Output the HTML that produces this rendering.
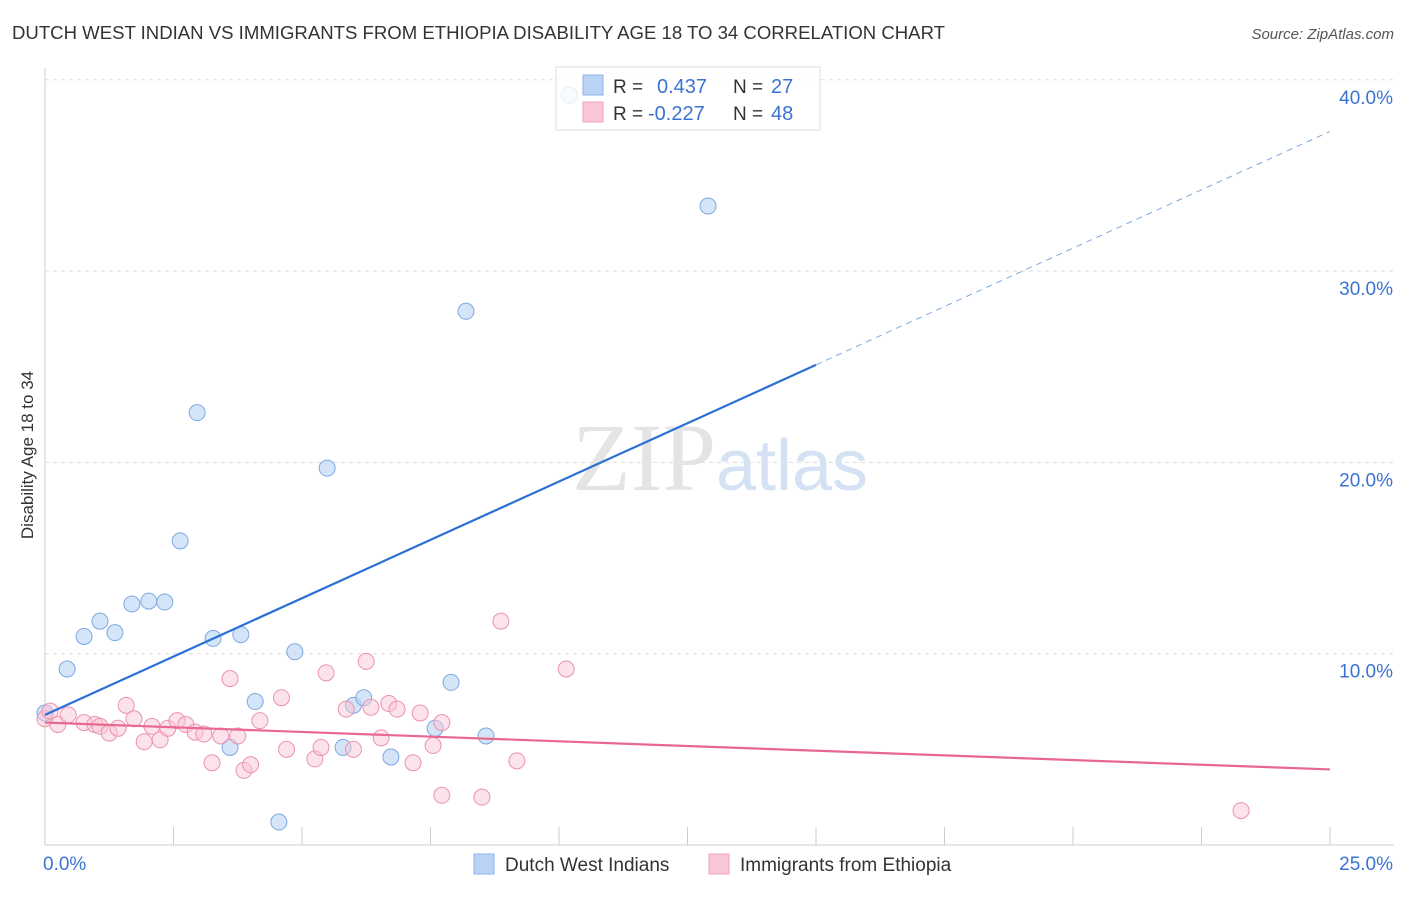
<!DOCTYPE html>
<html><head><meta charset="utf-8"><style>
body{margin:0;background:#fff;font-family:"Liberation Sans",sans-serif}
svg text{font-family:"Liberation Sans",sans-serif}
</style></head><body>
<svg id="c" width="1406" height="892" xmlns="http://www.w3.org/2000/svg">
<text x="12" y="39" font-size="18" fill="#333" textLength="933" lengthAdjust="spacingAndGlyphs">DUTCH WEST INDIAN VS IMMIGRANTS FROM ETHIOPIA DISABILITY AGE 18 TO 34 CORRELATION CHART</text>
<text x="1394" y="39" font-size="15" fill="#555" text-anchor="end" font-style="italic">Source: ZipAtlas.com</text>
<text x="33" y="455" font-size="17" fill="#333" text-anchor="middle" transform="rotate(-90 33 455)">Disability Age 18 to 34</text>
<g id="grid"></g>
<text x="720" y="490" font-size="96" fill="#e4e4e4" text-anchor="middle" font-family="Liberation Serif"><tspan font-family="Liberation Serif">ZIP</tspan><tspan fill="#d4e2f4" font-family="Liberation Sans" font-size="72">atlas</tspan></text>
<g id="marks"></g>
<g>
<rect x="556" y="67" width="264" height="63" fill="#fff" fill-opacity="0.8" stroke="#ddd"/>
<rect x="583" y="75" width="20" height="20" fill="#b9d3f5" stroke="#8fb3e6"/>
<rect x="583" y="102" width="20" height="20" fill="#f9c6d5" stroke="#eea3ba"/>
<text x="613" y="93" font-size="19" fill="#333">R = </text><text x="657" y="93" font-size="20" fill="#3b73d3">0.437</text>
<text x="733" y="93" font-size="19" fill="#333">N = </text><text x="771" y="93" font-size="20" fill="#3b73d3">27</text>
<text x="613" y="120" font-size="19" fill="#333">R = </text><text x="648" y="120" font-size="20" fill="#3b73d3">-0.227</text>
<text x="733" y="120" font-size="19" fill="#333">N = </text><text x="771" y="120" font-size="20" fill="#3b73d3">48</text>
</g>
<g>
<rect x="474" y="854" width="20" height="20" fill="#b9d3f5" stroke="#8fb3e6"/>
<text x="505" y="871" font-size="19" fill="#333">Dutch West Indians</text>
<rect x="709" y="854" width="20" height="20" fill="#f9c6d5" stroke="#eea3ba"/>
<text x="740" y="871" font-size="19" fill="#333">Immigrants from Ethiopia</text>
</g>
</svg>
<script>
const xTicks=[0,2.5,5,7.5,10,12.5,15,17.5,20,22.5,25];
const yTicks=[10,20,30,40];
const blueX=[0,0.43,0.76,1.07,1.36,1.69,2.02,2.33,2.63,2.96,3.27,3.6,3.81,4.09,4.55,4.86,5.49,5.8,6.0,6.2,6.73,7.59,7.9,8.19,8.58,10.2,12.9];
const blueY=[6.9,9.2,10.9,11.7,11.1,12.6,12.75,12.7,15.9,22.6,10.8,5.1,11.0,7.5,1.2,10.1,19.7,5.1,7.3,7.7,4.6,6.1,8.5,27.9,5.7,39.2,33.4];
const pinkX=[0,0.1,0.25,0.45,0.76,0.97,1.07,1.25,1.42,1.58,1.73,1.93,2.08,2.24,2.39,2.57,2.74,2.92,3.09,3.25,3.42,3.6,3.75,3.87,4.0,4.18,4.6,4.7,5.25,5.37,5.47,5.86,6.0,6.25,6.34,6.54,6.69,6.85,7.16,7.3,7.55,7.72,7.72,8.5,8.87,9.18,10.14,23.27];
const pinkY=[6.6,7.0,6.3,6.8,6.4,6.3,6.2,5.85,6.1,7.3,6.6,5.4,6.2,5.5,6.1,6.5,6.3,5.9,5.8,4.3,5.7,8.7,5.7,3.9,4.2,6.5,7.7,5.0,4.5,5.1,9.0,7.1,5.0,9.6,7.2,5.6,7.4,7.1,4.3,6.9,5.2,6.4,2.6,2.5,11.7,4.4,9.2,1.8];
const blueLine=[6.8,25.1]; const blueLineX=[0,15]; const blueDashEnd=[25,37.3];
const pinkLine=[6.4,3.95];
const X=v=>45+v*51.4, Y=v=>845-v*19.13;
const NS="http://www.w3.org/2000/svg";
const svg=document.getElementById('c'),grid=document.getElementById('grid'),marks=document.getElementById('marks');
function mk(tag,at,parent){const e=document.createElementNS(NS,tag);for(const k in at)e.setAttribute(k,at[k]);(parent||marks).appendChild(e);return e;}
let l=mk('line',{x1:45,y1:68,x2:45,y2:845,stroke:'#ccc'},grid);


l=mk('line',{x1:45,y1:845,x2:1394,y2:845,stroke:'#ccc'},grid);


yTicks.forEach(t=>{const g=mk('line',{x1:45,y1:Y(t),x2:1394,y2:Y(t),stroke:'#ddd','stroke-dasharray':'4,4'},grid);


const tx=mk('text',{x:1393,y:Y(t)+24,'font-size':19,fill:'#3b73d3','text-anchor':'end'},grid);tx.textContent=t.toFixed(1)+'%';

});
xTicks.forEach(t=>{const g=mk('line',{x1:X(t),y1:827,x2:X(t),y2:845,stroke:'#ccc'},grid);

});
[[0,'start'],[25,'end']].forEach(([t,a])=>{const tx=mk('text',{x:t==0?X(t)-2:1393,y:870,'font-size':19,fill:'#3b73d3','text-anchor':a},grid);tx.textContent=t.toFixed(1)+'%';

});
blueX.forEach((x,i)=>{const c=mk('circle',{cx:X(x),cy:Y(blueY[i]),r:8,fill:'rgba(185,211,245,0.6)',stroke:'#7fa8e0','stroke-width':1});

});
pinkX.forEach((x,i)=>{const c=mk('circle',{cx:X(x),cy:Y(pinkY[i]),r:8,fill:'rgba(249,198,213,0.5)',stroke:'#eb93ae','stroke-width':1});

});
l=mk('line',{x1:X(blueLineX[0]),y1:Y(blueLine[0]),x2:X(blueLineX[1]),y2:Y(blueLine[1]),stroke:'#2a6fd6','stroke-width':2.2});


l=mk('line',{x1:X(blueLineX[1]),y1:Y(blueLine[1]),x2:X(blueDashEnd[0]),y2:Y(blueDashEnd[1]),stroke:'#7fa8e0','stroke-width':1,'stroke-dasharray':'6,5'});


l=mk('line',{x1:X(0),y1:Y(pinkLine[0]),x2:X(25),y2:Y(pinkLine[1]),stroke:'#e8688f','stroke-width':2.2});


</script>
</body></html>
